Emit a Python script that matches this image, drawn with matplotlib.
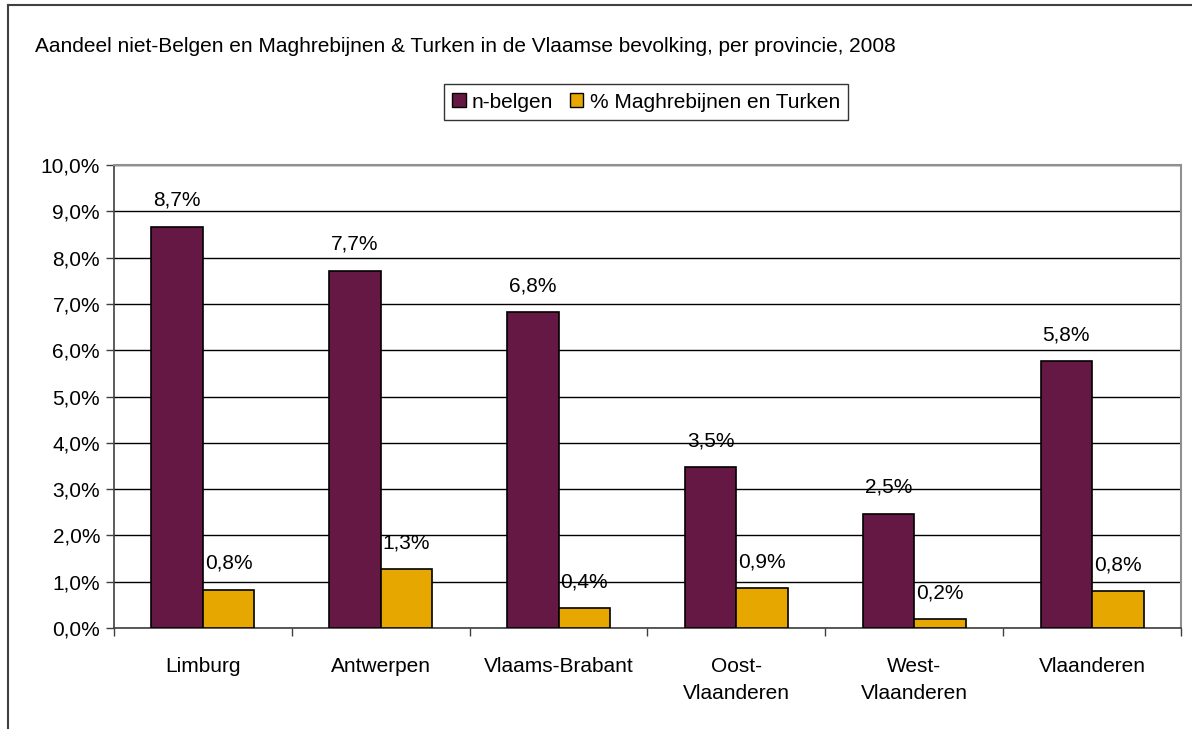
import numpy as np
import matplotlib
matplotlib.use('Agg')
from matplotlib import pyplot as plt
from matplotlib.lines import Line2D
from matplotlib.patches import Patch

plt.rcParams['font.family'] = ['Liberation Sans', 'DejaVu Sans']

# data
provincies = ['Limburg', 'Antwerpen', 'Vlaams-Brabant', 'Oost-\nVlaanderen', 'West-\nVlaanderen', 'Vlaanderen']
n_belgen = [8.67, 7.72, 6.83, 3.47, 2.47, 5.76]
magh_turken = [0.83, 1.27, 0.43, 0.87, 0.19, 0.79]
yticks = np.arange(0, 10.5, 1.0)

c_dark = '#661845'
c_yellow = '#E6A800'
fs = 15

fig = plt.figure(figsize=(11.92, 7.29), dpi=100)
ax = fig.add_axes([114/1192, 1-628/729, (1181-114)/1192, (628-165)/729])

x = np.arange(len(provincies))
w = 0.29
b1 = ax.bar(x - w/2, n_belgen, w, color=c_dark, edgecolor='black', linewidth=1.2, zorder=3)
b2 = ax.bar(x + w/2, magh_turken, w, color=c_yellow, edgecolor='black', linewidth=1.2, zorder=3)

# value labels with comma decimals
for bars, vals in ((b1, n_belgen), (b2, magh_turken)):
    for r, v in zip(bars, vals):
        ax.text(r.get_x() + r.get_width()/2, v + 0.36, ('%.1f%%' % v).replace('.', ','),
                ha='center', va='bottom', fontsize=fs, zorder=4)

ax.set_xlim(-0.5, len(provincies) - 0.5)
ax.set_ylim(0, 10)
ax.set_yticks(yticks)
ax.set_yticklabels([('%.1f%%' % t).replace('.', ',') for t in yticks], fontsize=fs)
ax.set_xticks(np.arange(-0.5, len(provincies), 1.0))
ax.set_xticklabels([])
ax.set_xticks(x, minor=True)
ax.set_xticklabels(provincies, minor=True, fontsize=fs, linespacing=1.55)
ax.tick_params(axis='x', which='minor', length=0, pad=21)
ax.tick_params(axis='x', which='major', length=6, direction='out', width=1, color='#404040')
ax.tick_params(axis='y', length=6, width=1, pad=4, color='#404040')
ax.yaxis.grid(True, color='black', linewidth=1, zorder=0)
ax.set_axisbelow(True)

for s in ('top', 'right'):
    ax.spines[s].set_color('#909090')
    ax.spines[s].set_linewidth(1.5)
ax.spines['left'].set_color('#404040')
ax.spines['bottom'].set_color('#404040')
ax.spines['left'].set_linewidth(1.2)
ax.spines['bottom'].set_linewidth(1.2)

fig.text(35/1192, 1-47/729, 'Aandeel niet-Belgen en Maghrebijnen & Turken in de Vlaamse bevolking, per provincie, 2008',
         fontsize=fs, va='center', ha='left')

handles = [Patch(facecolor=c_dark, edgecolor='black'), Patch(facecolor=c_yellow, edgecolor='black')]
leg = fig.legend(handles, ['n-belgen', '% Maghrebijnen en Turken'], loc='center',
                 bbox_to_anchor=(646/1192, 1-102/729), ncol=2, fontsize=fs, frameon=True,
                 fancybox=False, handlelength=0.65, handleheight=0.65, handletextpad=0.3,
                 columnspacing=0.8, borderpad=0.4)
leg.get_frame().set_edgecolor('black')
leg.get_frame().set_linewidth(1)

# outer chart border (only top and left visible)
fig.add_artist(Line2D([8/1192, 1.0], [1-5/729, 1-5/729], color='#404040', linewidth=1.5))
fig.add_artist(Line2D([8/1192, 8/1192], [0.0, 1-5/729], color='#404040', linewidth=1.5))

fig.savefig('out.png', dpi=100)
